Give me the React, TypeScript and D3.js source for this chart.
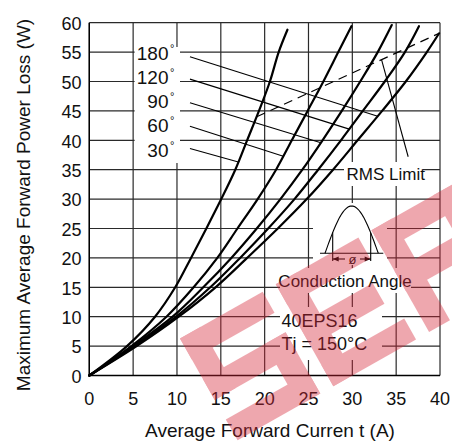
import React from "react";
import * as d3 from "d3";

const W = 452;
const H = 444;

const xTicks = [0, 5, 10, 15, 20, 25, 30, 35, 40];
const yTicks = [0, 5, 10, 15, 20, 25, 30, 35, 40, 45, 50, 55, 60];

// power levels (W) at which each curve's current (A) was read
const powerLevels = [0, 5, 10, 15, 20, 25, 30, 35, 40, 45, 50, 55];
const angleLabels = ["30", "60", "90", "120", "180"];
const current30 = [0, 4.3, 7.5, 9.8, 11.6, 13.35, 15.05, 16.65, 18.0, 19.35, 20.6, 21.6];
const current60 = [0, 4.8, 8.8, 11.9, 14.6, 16.9, 19.2, 21.3, 23.1, 24.9, 26.7, 28.4];
const current90 = [0, 5.0, 9.5, 13.0, 16.2, 19.1, 21.8, 24.3, 26.6, 28.8, 30.9, 32.9];
const current120 = [0, 5.2, 9.9, 13.8, 17.2, 20.4, 23.4, 26.1, 28.7, 31.2, 33.7, 36.0];
const current180 = [0, 5.4, 10.2, 14.4, 18.0, 21.5, 24.8, 27.8, 30.6, 33.4, 36.1, 38.5];
const endCurrent = [22.6, 29.9, 34.5, 37.6, 39.9];
const endPower = [58.8, 59.4, 59.6, 59.4, 58.2];

// RMS limit dashed line
const rmsCurrent = [19.1, 39.9];
const rmsPower = [44.0, 58.2];
const rmsLeaderCurrent = [33.34, 36.37];
const rmsLeaderPower = [53.66, 37.2];

// angle label leaders (start current/power, end power on the curve)
const leaderStartCurrent = 11.48;
const leaderStartPower = [38.6, 42.4, 46.4, 50.4, 54.2];
const leaderEndPower = [36.3, 37.3, 39.6, 41.9, 44.1];
const labelPower = [37.21, 41.36, 45.44, 49.54, 53.66];
const labelCurrent = 9.03;

const FONT = "'Liberation Sans', Arial, Helvetica, sans-serif";

function currentAt(cur: number[], endC: number, endP: number, p: number) {
  const ps = [...powerLevels, endP];
  const cs = [...cur, endC];
  for (let i = 0; i < ps.length - 1; i++) {
    if (p >= ps[i] && p <= ps[i + 1]) {
      const t = (p - ps[i]) / (ps[i + 1] - ps[i]);
      return cs[i] + t * (cs[i + 1] - cs[i]);
    }
  }
  return endC;
}

export default function App() {
  const x = d3.scaleLinear().domain([0, 40]).range([89.3, 440]);
  const y = d3.scaleLinear().domain([0, 60]).range([375.5, 22.7]);
  const series = [current30, current60, current90, current120, current180];

  const line = d3
    .line<[number, number]>()
    .x((d) => x(d[0]))
    .y((d) => y(d[1]))
    .curve(d3.curveCatmullRom.alpha(0.5));

  // inset half-sine
  const ix0 = 325, ix1 = 378.3, iBase = 253.3, iAmp = 47.3;
  const sinePts: [number, number][] = d3.range(0, 1.0001, 0.02).map((t) => [
    ix0 + t * (ix1 - ix0),
    iBase - iAmp * Math.sin(Math.PI * t),
  ]);
  const sineY = (px: number) => iBase - iAmp * Math.sin((Math.PI * (px - ix0)) / (ix1 - ix0));
  const vA = 332.7, vB = 370.7, arrowY = 259;

  const gridColor = "#2a2a2a";

  // watermark block letters (band coordinates)
  const bh = 117, bt = 24;
  const mid = (bh - bt) / 2;
  const letters: [number, number, number, number][] = [
    // S
    [-10, 0, 95, bt], [-10, 0, bt, mid + bt], [-10, mid, 95, bt], [85 - bt, mid, bt, bh - mid], [-10, bh - bt, 95, bt],
    // E
    [100, 0, bt, bh], [100, 0, 95, bt], [100, mid, 85, bt], [100, bh - bt, 95, bt],
    // P
    [210, 0, bt, bh], [210, 0, 95, bt], [210, mid, 95, bt], [305 - bt, 0, bt, mid + bt],
  ];

  return (
    <svg
      width={W}
      height={H}
      style={{ position: "absolute", left: 0, top: 0, background: "#fff" }}
      fontFamily={FONT}
    >
      <rect x={0} y={0} width={W} height={H} fill="#fff" />
      {/* grid */}
      <g stroke={gridColor} strokeWidth={1.2}>
        {xTicks.map((t) => (
          <line key={"gx" + t} x1={x(t)} x2={x(t)} y1={y(60)} y2={y(0)} />
        ))}
        {yTicks.map((t) => (
          <line key={"gy" + t} x1={x(0)} x2={x(40)} y1={y(t)} y2={y(t)} />
        ))}
      </g>
      {/* white boxes behind annotations */}
      <g fill="#fff">
        <rect x={134.6} y={47} width={45.4} height={116} />
        <rect x={344} y={162} width={79} height={24} />
        <rect x={313} y={203} width={74} height={62} />
        <rect x={280} y={268} width={131} height={25} />
        <rect x={280} y={307} width={102} height={53} />
      </g>
      {/* axes */}
      <g stroke="#000" strokeWidth={1.4}>
        <line x1={x(0)} x2={x(0)} y1={y(60)} y2={y(0)} />
        <line x1={x(0)} x2={x(40)} y1={y(0)} y2={y(0)} />
      </g>
      {/* tick labels */}
      <g fontSize={18} fill="#111">
        {xTicks.map((t) => (
          <text key={"tx" + t} x={x(t)} y={405} textAnchor="middle">
            {t}
          </text>
        ))}
        {yTicks.map((t) => (
          <text key={"ty" + t} x={81.5} y={y(t) + 7.3} textAnchor="end">
            {t}
          </text>
        ))}
      </g>
      {/* axis titles */}
      <text x={270} y={436.5} textAnchor="middle" fontSize={19} fill="#111">
        Average Forward Curren t (A)
      </text>
      <text
        transform={`translate(29.5,205) rotate(-90)`}
        textAnchor="middle"
        fontSize={19}
        fill="#111"
      >
        Maximum Average Forward Power Loss (W)
      </text>
      {/* curves */}
      <g fill="none" stroke="#000" strokeWidth={2.2} strokeLinecap="round">
        {series.map((cur, i) => {
          const pts: [number, number][] = cur.map((c, j) => [c, powerLevels[j]]);
          pts.push([endCurrent[i], endPower[i]]);
          return <path key={"c" + i} d={line(pts) || ""} />;
        })}
      </g>
      {/* RMS limit */}
      <line
        x1={x(rmsCurrent[0])}
        y1={y(rmsPower[0])}
        x2={x(rmsCurrent[1])}
        y2={y(rmsPower[1])}
        stroke="#000"
        strokeWidth={1.2}
        strokeDasharray="9,6"
      />
      <line
        x1={x(rmsLeaderCurrent[0])}
        y1={y(rmsLeaderPower[0])}
        x2={x(rmsLeaderCurrent[1])}
        y2={y(rmsLeaderPower[1])}
        stroke="#000"
        strokeWidth={1.1}
      />
      <text x={346.5} y={180} fontSize={17} fill="#111">
        RMS Limit
      </text>
      {/* angle labels and leaders */}
      <g stroke="#000" strokeWidth={1.1}>
        {series.map((cur, i) => (
          <line
            key={"l" + i}
            x1={x(leaderStartCurrent)}
            y1={y(leaderStartPower[i])}
            x2={x(currentAt(cur, endCurrent[i], endPower[i], leaderEndPower[i]))}
            y2={y(leaderEndPower[i])}
          />
        ))}
      </g>
      <g fontSize={19} fill="#111">
        {angleLabels.map((a, i) => (
          <text key={"a" + i} x={x(labelCurrent)} y={y(labelPower[i])} textAnchor="end">
            {a}
          </text>
        ))}
        {angleLabels.map((a, i) => (
          <text key={"d" + i} x={x(labelCurrent) + 1.5} y={y(labelPower[i]) - 8} fontSize={11}>
            °
          </text>
        ))}
      </g>
      {/* inset: conduction angle */}
      <g fill="none" stroke="#000" strokeWidth={1.1}>
        <path d={d3.line()(sinePts) || ""} />
        <line x1={320} x2={383.3} y1={iBase} y2={iBase} />
        <line x1={vA} x2={vA} y1={sineY(vA)} y2={261} />
        <line x1={vB} x2={vB} y1={sineY(vB)} y2={261} />
        <line x1={vA} x2={345} y1={arrowY} y2={arrowY} />
        <line x1={360} x2={vB} y1={arrowY} y2={arrowY} />
      </g>
      <g fill="#000">
        <path d={`M${vA},${arrowY} l6,-2.5 l0,5 Z`} />
        <path d={`M${vB},${arrowY} l-6,-2.5 l0,5 Z`} />
      </g>
      <text x={352.5} y={263.5} textAnchor="middle" fontSize={13} fill="#111">
        ø
      </text>
      <text x={345} y={287} textAnchor="middle" fontSize={17} fill="#111">
        Conduction Angle
      </text>
      <text x={281.5} y={326.7} fontSize={18} fill="#111">
        40EPS16
      </text>
      <text x={281.5} y={350} fontSize={18} fill="#111">
        Tj = 150°C
      </text>
      {/* watermark */}
      <g transform="translate(188.7,333.6) rotate(-29.5)" opacity={0.4} fill="rgb(214,38,56)">
        {letters.map((r, i) => (
          <rect key={"w" + i} x={r[0]} y={r[1]} width={r[2]} height={r[3]} />
        ))}
      </g>
    </svg>
  );
}
